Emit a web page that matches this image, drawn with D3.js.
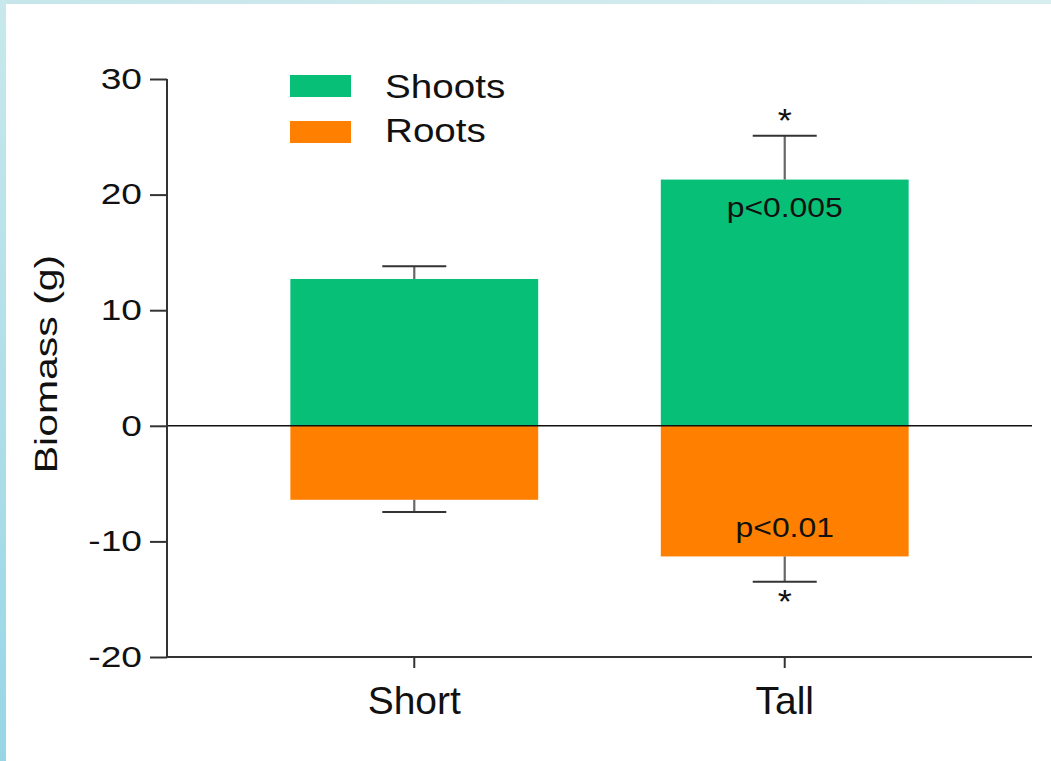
<!DOCTYPE html>
<html><head><meta charset="utf-8">
<script src="https://cdn.jsdelivr.net/npm/d3@7"></script>
<style>body{margin:0;background:#fff}svg{display:block;font-family:"Liberation Sans",Arial,sans-serif}</style>
</head><body>
<svg id="c" width="1051" height="761"></svg>
<script>
const categories = ["Short", "Tall"];
const shoots = [12.7, 21.3];
const shootsErr = [13.8, 25.1];
const roots = [-6.4, -11.3];
const rootsErr = [-7.45, -13.5];
const yTicks = [-20, -10, 0, 10, 20, 30];
const shootLabels = ["", "p<0.005"];
const rootLabels = ["", "p<0.01"];
const starsTop = ["", "*"];
const starsBottom = ["", "*"];

const svg = d3.select("#c");
const defs = svg.append("defs");
const gl = defs.append("linearGradient").attr("id","gl").attr("x1",0).attr("y1",0).attr("x2",0).attr("y2",1);
gl.append("stop").attr("offset",0).attr("stop-color","#c8e8ec");
gl.append("stop").attr("offset",1).attr("stop-color","#98d6e6");
const gt = defs.append("linearGradient").attr("id","gt").attr("x1",0).attr("y1",0).attr("x2",1).attr("y2",0);
gt.append("stop").attr("offset",0).attr("stop-color","#c6e6ea");
gt.append("stop").attr("offset",1).attr("stop-color","#d6eef0");
svg.append("rect").attr("x",0).attr("y",0).attr("width",1051).attr("height",4).attr("fill","url(#gt)");
svg.append("rect").attr("x",0).attr("y",0).attr("width",6).attr("height",761).attr("fill","url(#gl)");

const y = d3.scaleLinear().domain([-20, 30]).range([657, 79]);
const x = d3.scaleBand().domain(categories).range([167, 1032]).paddingInner(0.331).paddingOuter(0.333);
const xc = d => x(d) + x.bandwidth()/2;

function stext(px, py, s, size, sx, anchor) {
  return svg.append("text").attr("transform", `translate(${px},${py}) scale(${sx},1)`)
    .attr("text-anchor", anchor || "middle").attr("font-size", size).attr("fill", "#111").text(s);
}

// bars
const g = svg.append("g");
g.selectAll(".s").data(categories).join("rect")
  .attr("x", d => x(d)).attr("width", x.bandwidth())
  .attr("y", (d,i) => y(shoots[i])).attr("height", (d,i) => y(0) - y(shoots[i]))
  .attr("fill", "#08bf78");
g.selectAll(".r").data(categories).join("rect")
  .attr("x", d => x(d)).attr("width", x.bandwidth())
  .attr("y", y(0)).attr("height", (d,i) => y(roots[i]) - y(0))
  .attr("fill", "#ff7f00");

// error bars
function err(vals, ends) {
  categories.forEach((c,i) => {
    g.append("line").attr("x1", xc(c)).attr("x2", xc(c)).attr("y1", y(vals[i])).attr("y2", y(ends[i]))
      .attr("stroke", "#666").attr("stroke-width", 2.2);
    g.append("line").attr("x1", xc(c)-32).attr("x2", xc(c)+32).attr("y1", y(ends[i])).attr("y2", y(ends[i]))
      .attr("stroke", "#333").attr("stroke-width", 2);
  });
}
err(shoots, shootsErr);
err(roots, rootsErr);

// zero line
svg.append("line").attr("x1", 167).attr("x2", 1032).attr("y1", y(0)).attr("y2", y(0)).attr("stroke", "#111").attr("stroke-width", 1.5);

// axes
const ya = svg.append("g").attr("transform", "translate(167,0)")
  .call(d3.axisLeft(y).tickValues(yTicks).tickSize(17).tickFormat(d => String(d)));
ya.select(".domain").attr("stroke","#333").attr("stroke-width",2).attr("d","M0,"+y(30)+"V"+(y(-20)+1));
ya.selectAll(".tick line").attr("stroke","#333").attr("stroke-width",2);
ya.selectAll(".tick text").attr("font-size", 29).attr("fill","#111").attr("x", 0)
  .attr("transform", "translate(-25,0) scale(1.28,1)");

const xa = svg.append("g").attr("transform", "translate(0,657)")
  .call(d3.axisBottom(x).tickSize(11).tickPadding(0));
xa.select(".domain").attr("stroke","#333").attr("stroke-width",2).attr("d","M166,0H1032");
xa.selectAll(".tick line").attr("stroke","#333").attr("stroke-width",2);
xa.selectAll(".tick text").attr("font-size", 39).attr("fill","#111").attr("y", 57).attr("dy", null);

svg.append("text").attr("transform","translate(57,364) rotate(-90) scale(1.28,1)").attr("text-anchor","middle")
  .attr("font-size",32).attr("fill","#111").text("Biomass (g)");

// annotations
categories.forEach((c,i) => {
  stext(xc(c), y(shoots[i]) + 37, shootLabels[i], 27, 1.18);
  stext(xc(c), y(roots[i]) - 19, rootLabels[i], 27, 1.18);
  stext(xc(c), y(shootsErr[i]) - 4, starsTop[i], 33, 1.1);
  stext(xc(c), y(rootsErr[i]) + 31, starsBottom[i], 33, 1.1);
});

// legend
const legend = [{name:"Shoots", color:"#08bf78"}, {name:"Roots", color:"#ff7f00"}];
legend.forEach((d,i) => {
  svg.append("rect").attr("x", 290).attr("y", 75 + i*46).attr("width", 61).attr("height", 22).attr("fill", d.color);
  stext(385, 98 + i*44, d.name, 33, 1.17, "start");
});
</script>
</body></html>
